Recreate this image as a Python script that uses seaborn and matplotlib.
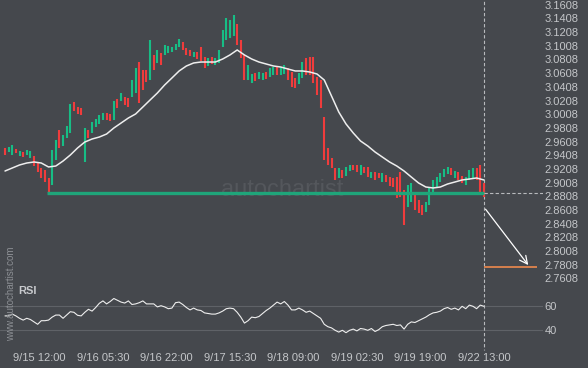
# Candlestick chart with MA, support line and RSI panel
import numpy as np
import matplotlib
matplotlib.use("Agg")
import matplotlib.pyplot as plt
import seaborn as sns

# ---- data (hourly candles) ----
opens = [
    2.9514, 2.9455, 2.9411, 2.9499, 2.9397, 2.9455, 2.9411, 2.9367, 2.9397, 2.9294,
    2.9221, 2.9192, 2.9075, 2.8972, 2.9338, 2.9777, 2.9543, 2.9660, 2.9733, 3.0186,
    3.0113, 3.0098, 2.9309, 2.9777, 2.9733, 2.9821, 2.9865, 2.9923, 3.0025, 3.0011,
    2.9923, 3.0230, 3.0201, 3.0259, 3.0245, 3.0259, 3.0318, 3.0771, 3.0654, 3.0654,
    3.0508, 3.0874, 3.0757, 3.0903, 3.0874, 3.0903, 3.0918, 3.0947, 3.0991, 3.1064,
    3.0976, 3.0947, 3.0844, 3.0918, 3.0991, 3.0844, 3.0713, 3.0844, 3.0727, 3.0757,
    3.0991, 3.1093, 3.1122, 3.1152, 3.1327, 3.1093, 3.0874, 3.0508, 3.0464, 3.0610,
    3.0523, 3.0508, 3.0625, 3.0552, 3.0581, 3.0698, 3.0581, 3.0596, 3.0684, 3.0625,
    3.0537, 3.0450, 3.0537, 3.0830, 3.0844, 3.0844, 3.0552, 3.0508, 2.9967, 2.9514,
    2.9367, 2.9221, 2.9075, 2.9192, 2.9104, 2.9177, 2.9265, 2.9265, 2.9119, 2.9236,
    2.9236, 2.9075, 2.9163, 2.9148, 2.9016, 2.9119, 2.9089, 2.9075, 2.9089, 2.9163,
    2.8899, 2.8651, 2.8724, 2.8855, 2.8753, 2.8680, 2.8578, 2.8680, 2.8855, 2.8929,
    2.9016, 2.9089, 2.9133, 2.9221, 2.9075, 2.9163, 2.9104, 2.8972, 2.9046, 2.9075,
    2.9221, 2.9265, 2.9002,
]
closes = [
    2.9411, 2.9528, 2.9557, 2.9441, 2.9470, 2.9382, 2.9484, 2.9470, 2.9250, 2.9163,
    2.9075, 2.9016, 2.8852, 2.9484, 2.9631, 2.9514, 2.9704, 2.9835, 3.0157, 3.0055,
    3.0011, 2.9996, 2.9806, 2.9660, 2.9894, 2.9938, 2.9996, 3.0025, 2.9923, 2.9908,
    3.0201, 3.0098, 3.0318, 3.0142, 3.0113, 3.0508, 3.0684, 3.0172, 3.0362, 3.0479,
    3.1093, 3.0654, 3.0947, 3.0727, 3.1020, 3.1005, 3.0991, 3.1035, 3.1108, 3.0947,
    3.0874, 3.0859, 3.0918, 3.0815, 3.0786, 3.0684, 3.0830, 3.0742, 3.0830, 3.0947,
    3.1239, 3.1415, 3.1386, 3.1459, 3.1020, 3.0830, 3.0508, 3.0727, 3.0596, 3.0493,
    3.0625, 3.0610, 3.0523, 3.0684, 3.0698, 3.0581, 3.0698, 3.0727, 3.0508, 3.0406,
    3.0391, 3.0610, 3.0771, 3.0581, 3.0581, 3.0464, 3.0289, 3.0098, 2.9338, 2.9265,
    2.9221, 2.9046, 2.9221, 2.9075, 2.9236, 2.9265, 2.9192, 2.9163, 2.9265, 2.9148,
    2.9089, 2.9163, 2.9046, 2.9075, 2.9148, 2.9016, 2.8958, 2.8943, 2.8782, 2.8797,
    2.8387, 2.8972, 2.9002, 2.8607, 2.8563, 2.8534, 2.8724, 2.8929, 2.9046, 2.9089,
    2.9148, 2.9206, 2.9236, 2.9119, 2.9177, 2.9046, 2.9002, 2.9089, 2.9192, 2.9221,
    2.9046, 2.8826, 2.8797,
]
# moving average, one value every 2 candles
ma_values = [
    2.9177, 2.9221, 2.9265, 2.9294, 2.9309, 2.9294, 2.9236, 2.9250, 2.9323, 2.9411,
    2.9514, 2.9601, 2.9645, 2.9674, 2.9718, 2.9806, 2.9879, 2.9952, 3.0011, 3.0113,
    3.0216, 3.0318, 3.0435, 3.0537, 3.0640, 3.0713, 3.0757, 3.0771, 3.0771, 3.0771,
    3.0815, 3.0874, 3.0947, 3.0874, 3.0815, 3.0771, 3.0742, 3.0713, 3.0698, 3.0669,
    3.0640, 3.0640, 3.0625, 3.0596, 3.0508, 3.0274, 3.0040, 2.9865, 2.9733, 2.9616,
    2.9543, 2.9455, 2.9382, 2.9309, 2.9250, 2.9177, 2.9089, 2.9002, 2.8943, 2.8929,
    2.8943, 2.8987, 2.9016, 2.9046, 2.9060, 2.9075, 2.9046,
]
rsi_values = [
    52, 52, 53.5, 52, 50, 48.5, 50, 49, 47, 45,
    48, 48, 48.5, 51, 52.7, 52.7, 50, 52.7, 55.5, 55,
    52.5, 52, 55, 57.5, 56, 59, 62.5, 64.5, 62, 64,
    66.5, 65, 63.5, 62.7, 64.5, 61.5, 62, 63, 64.5, 62,
    62, 62, 59.5, 60.5, 59.5, 58, 58.5, 63, 63.5, 61.5,
    59, 57, 58.5, 57, 56.5, 54.5, 54, 53.5, 53.5, 54.5,
    56, 58, 58.5, 58, 55, 51, 46, 48, 51, 50.5,
    51.5, 54, 56.5, 58.5, 61, 63.5, 62, 64, 61, 57,
    57, 58.5, 57, 55, 56, 54, 52, 50, 45, 43,
    42, 40, 38.5, 40, 38, 40, 41, 39.5, 41.5, 41,
    40, 41.5, 39, 40.5, 43, 44, 44.5, 45, 44, 44.5,
    41, 45, 47, 46.5, 48, 49.5, 51, 53, 54.5, 55,
    56, 58, 59, 57.5, 58.5, 57, 60, 58, 61, 60,
    58, 61, 60,
]

price_ticks = [3.1608, 3.1408, 3.1208, 3.1008, 3.0808, 3.0608, 3.0408, 3.0208,
               3.0008, 2.9808, 2.9608, 2.9408, 2.9208, 2.9008, 2.8808, 2.8608,
               2.8408, 2.8208, 2.8008, 2.7808, 2.7608]
time_ticks = [9.5, 27, 44.5, 62, 79.5, 97, 114.5, 132]
time_labels = ["9/15 12:00", "9/16 05:30", "9/16 22:00", "9/17 15:30",
               "9/18 09:00", "9/19 02:30", "9/19 19:00", "9/22 13:00"]

support_level = 2.8852
support_start = 11.6
target_level = 2.7769
arrow_start = 2.8651
target_end = 146.6
arrow_end = 144.7

# ---- style ----
bg = "#45484d"
txt = "#c4c6c9"
green = "#17bd85"
red = "#f03c3c"

sns.set_theme(style="dark", rc={"axes.facecolor": bg, "figure.facecolor": bg})
plt.rcParams["font.family"] = ["Liberation Sans", "DejaVu Sans"]

fig = plt.figure(figsize=(5.88, 3.68), dpi=100)
ax = fig.add_axes([0, 80 / 368, 543 / 588, 288 / 368])
ax2 = fig.add_axes([0, 26 / 368, 543 / 588, 54 / 368], sharex=ax)

idx = np.arange(len(opens))
lows = np.minimum(opens, closes)
highs = np.maximum(opens, closes)
cols = [green if c >= o else red for o, c in zip(opens, closes)]
last = idx[-1]

# watermark
ax.text(0.52, 0.34, "autochartist", transform=ax.transAxes, ha="center",
        va="center", fontsize=17, color="#54575c", zorder=0)

# candles
ax.vlines(idx, lows, highs, colors=cols, linewidth=1.5, zorder=2)

# moving average
sns.lineplot(x=idx[::2], y=ma_values, ax=ax, color="#eeeeee", linewidth=1.1, zorder=3)

# support line and projection
ax.hlines(support_level, support_start, last, colors="#1fa57a", linewidth=2.4, zorder=4)
ax.hlines(support_level, last, 148.3, colors="#b8babd", linewidth=0.8,
          linestyles=(0, (3, 2)), zorder=4)
ax.hlines(target_level, last, target_end, colors="#ee8a4e", linewidth=1.2, zorder=4)
ax.annotate("", xy=(arrow_end, target_level), xytext=(last, arrow_start),
            arrowprops=dict(arrowstyle="->", color="white", lw=0.9, mutation_scale=14))
ax.axvline(last, color="#b8babd", linewidth=0.8, linestyle=(0, (3, 2)), zorder=1)

ax.set_xlim(-1.38, 148.3)
ax.set_ylim(2.7466, 3.1678)
ax.yaxis.tick_right()
ax.set_yticks(price_ticks)
ax.set_yticklabels([f"{t:.4f}" for t in price_ticks])
ax.tick_params(axis="y", length=0, pad=1, labelsize=8, labelcolor=txt)
ax.tick_params(axis="x", length=0, labelbottom=False)
ax.grid(False)
for s in ax.spines.values():
    s.set_visible(False)

# ---- RSI panel ----
for lvl in (40, 60):
    ax2.axhline(lvl, color="#5f6267", linewidth=0.8, zorder=1)
sns.lineplot(x=idx, y=rsi_values, ax=ax2, color="#eeeeee", linewidth=0.8, zorder=3)
ax2.plot([last, last], [75.25, 24], color="#b8babd", linewidth=0.8,
         linestyle=(0, (3, 2)), clip_on=False, zorder=2)
ax2.set_ylim(30.25, 75.25)
ax2.yaxis.tick_right()
ax2.set_yticks([40, 60])
ax2.set_yticklabels(["40", "60"])
ax2.tick_params(axis="y", length=0, pad=1, labelsize=8, labelcolor=txt)
ax2.set_xticks(time_ticks)
ax2.set_xticklabels(time_labels)
ax2.tick_params(axis="x", length=0, pad=8, labelsize=8, labelcolor=txt)
ax2.grid(False)
for s in ax2.spines.values():
    s.set_visible(False)
ax2.text(0.034, 0.95, "RSI", transform=ax2.transAxes, ha="left", va="center",
         fontsize=8, fontweight="bold", color="#c8cacd")

fig.text(11 / 588, 1 - 294 / 368, "www.autochartist.com", rotation=90, ha="center",
         va="center", fontsize=7, color="#8c8f94")

fig.savefig("out.png", dpi=100, facecolor=bg)
